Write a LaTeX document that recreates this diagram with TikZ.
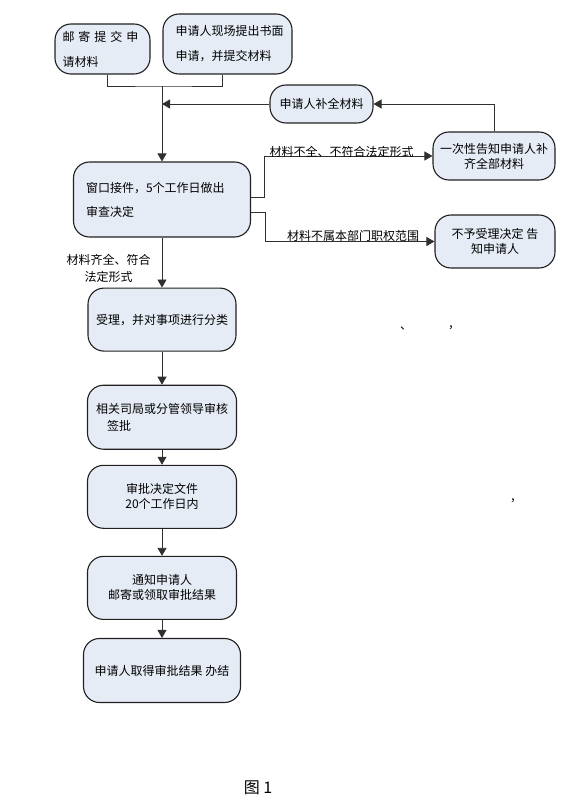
\documentclass[tikz,border=0pt]{standalone}
\usepackage{fontspec}
\setmainfont{Noto Sans CJK SC}
\usepackage{xcolor}
\definecolor{boxFill}{HTML}{E6ECF6}
\definecolor{boxLine}{HTML}{202020}
\definecolor{wireGray}{HTML}{303030}
\usepackage{tikz}
\usetikzlibrary{
    arrows.meta,
    positioning,
    calc
}
\tikzset{
    % Base style for all boxes
    flow base/.style={
        font=\fontsize{12pt}{15pt}\selectfont,
        text=black,
        inner sep=0pt,
    },
    % Rounded boxes of the procedure
    stage/.style={
        flow base,
        rectangle,
        rounded corners=16pt,
        draw=boxLine,
        line width=1.1pt,
        fill=boxFill,
        align=center,
    },
    % Connector with a filled triangle tip
    arrow/.style={
        -{Triangle[length=8pt, width=9pt]},
        line width=0.8pt,
        draw=wireGray,
    },
    % Plain joining line
    wire/.style={
        line width=0.8pt,
        draw=wireGray,
    },
    % Text written on a connector
    edge label/.style={
        font=\fontsize{12pt}{15pt}\selectfont,
        inner sep=1pt,
        align=center,
    },
}

\begin{document}
\begin{tikzpicture}[x=1pt, y=-1pt]
    \useasboundingbox (0,0) rectangle (570,805);

    \node (mail) [stage, minimum width=95pt, minimum height=50pt, text width=80pt, align=left] at (102.5,49)
        {\mbox{邮 寄 提 交 申}\\[10pt]请材料};
    \node (site) [stage, minimum width=129pt, minimum height=60pt, text width=122pt, align=left] at (227.5,44)
        {\hspace*{9pt}申请人现场提出书面\\[10pt]\hspace*{9pt}申请，并提交材料};
    \node (supp) [stage, minimum width=103pt, minimum height=38pt] at (321.5,104) {申请人补全材料};
    \node (notify) [stage, minimum width=122pt, minimum height=48pt] at (494,156)
        {一次性告知申请人补\\齐全部材料};
    \node (refuse) [stage, minimum width=120pt, minimum height=53pt] at (495,241.5)
        {不予受理决定 告\\知申请人};

    \node (window) [stage, minimum width=177pt, minimum height=75pt, text width=152pt, align=left] at (162,199.5)
        {窗口接件，5个工作日做出\\[9pt]审查决定};
    \node (accept) [stage, minimum width=148pt, minimum height=63pt, below=50pt of window]
        {\raisebox{-8pt}{受理，并对事项进行分类}};
    \node (review) [stage, minimum width=149pt, minimum height=64pt, below=33pt of accept, align=left]
        {相关司局或分管领导审核\\[2pt]\hspace{11pt}签批};
    \node (decide) [stage, minimum width=149pt, minimum height=63pt, below=15pt of review]
        {审批决定文件\\20个工作日内};
    \node (inform) [stage, minimum width=149pt, minimum height=63pt, below=27pt of decide]
        {通知申请人\\邮寄或领取审批结果};
    \node (finish) [stage, minimum width=157pt, minimum height=64pt, below=18pt of inform]
        {\raisebox{-6pt}{申请人取得审批结果 办结}};

    \coordinate (merge) at (162,86);

    \draw [wire] ([xshift=4.5pt]mail.south) |- (merge) -| ([xshift=-5.5pt]site.south);
    \draw [arrow] (merge) -- (window.north);
    \draw [arrow] (supp.west) -- (supp.west -| merge);
    \draw [arrow] (notify.north) |- (supp.east);
    \draw [arrow] ([yshift=2.5pt]window.east) -- ++(13,0) |- (notify.west)
        node[edge label, pos=0.73, above, yshift=-3pt] {材料不全、不符合法定形式};
    \draw [arrow] ([yshift=-12.5pt]window.east) -- ++(14,0) |- (refuse.west)
        node[edge label, pos=0.76, above, yshift=-1pt] {材料不属本部门职权范围};
    \draw [arrow] (window) -- (accept)
        node[edge label, pos=0.62, left=10pt] {材料齐全、符合\\[2pt]法定形式};
    \draw [arrow] (accept) -- (review);
    \draw [arrow] (review) -- (decide);
    \draw [arrow] (decide) -- (inform);
    \draw [arrow] (inform) -- (finish);

    % stray marks of the page
    \node (markA) [edge label] at (406,328) {、};
    \node (markB) [edge label] at (454,328) {，};
    \node (markC) [edge label] at (516,501) {，};

    \node (caption) [font=\fontsize{16pt}{18pt}\selectfont] at (258,788) {图 1};
\end{tikzpicture}
\end{document}
